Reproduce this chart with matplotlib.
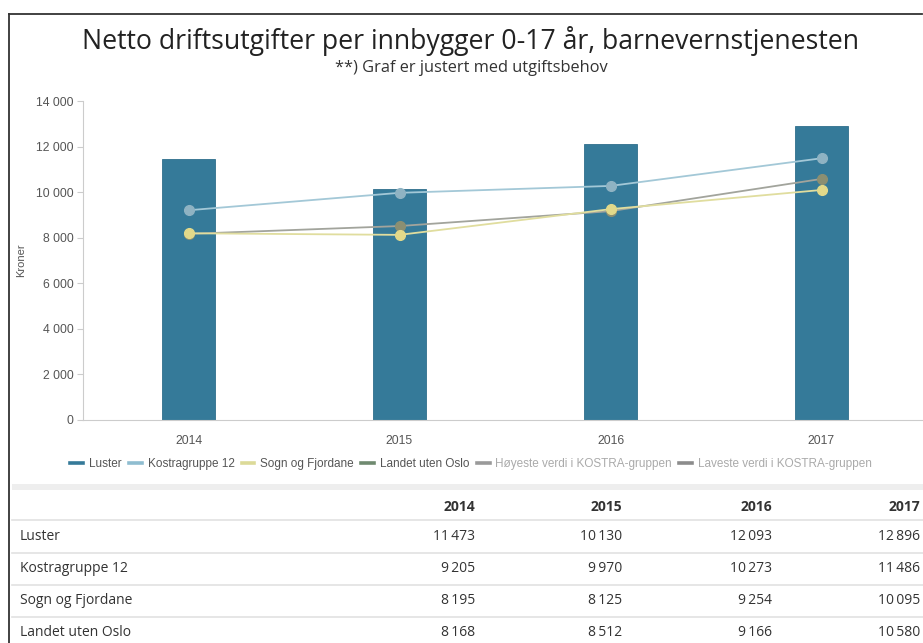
import matplotlib
matplotlib.use("Agg")
import matplotlib.pyplot as plt
from matplotlib.lines import Line2D
import numpy as np

years = ["2014", "2015", "2016", "2017"]
luster = [11473, 10130, 12093, 12896]
kostra = [9205, 9970, 10273, 11486]
sogn = [8195, 8125, 9254, 10095]
landet = [8168, 8512, 9166, 10580]
table_rows = ["Luster", "Kostragruppe 12", "Sogn og Fjordane", "Landet uten Oslo"]
table_vals = [luster, kostra, sogn, landet]
legend_labels = ["Luster", "Kostragruppe 12", "Sogn og Fjordane", "Landet uten Oslo",
                 "Høyeste verdi i KOSTRA-gruppen", "Laveste verdi i KOSTRA-gruppen"]
yticks = [0, 2000, 4000, 6000, 8000, 10000, 12000, 14000]

W, H = 923, 643
fig = plt.figure(figsize=(W / 100, H / 100), dpi=100)
fig.patch.set_facecolor("white")

def fx(px):
    return px / W

def fy(py):
    return 1 - py / H

# frame
fig.add_artist(Line2D([fx(9), fx(9)], [fy(14), fy(643)], color="#333333", lw=1.3))
fig.add_artist(Line2D([fx(9), fx(922)], [fy(14), fy(14)], color="#333333", lw=1.3))

fig.text(fx(471), fy(41), "Netto driftsutgifter per innbygger 0-17 år, barnevernstjenesten",
         ha="center", va="center", fontsize=19.2, family="Open Sans", color="#222222")
fig.text(fx(471), fy(68), "**) Graf er justert med utgiftsbehov",
         ha="center", va="center", fontsize=11.8, family="Open Sans", color="#333333")

ax = fig.add_axes([fx(83), fy(420), fx(927) - fx(83), fy(101) - fy(420)])
x = np.arange(len(years))
ax.bar(x, luster, width=0.25, color="#357a99", edgecolor="#2f6f8c", linewidth=0.6, zorder=2)
ax.plot(x, kostra, color="#a3c8d7", lw=1.3, marker="o", ms=7,
        mfc="#8fb3c3", mec="#8fb3c3", zorder=3)
ax.plot(x, landet, color="#a2a49c", lw=1.3, marker="o", ms=7,
        mfc="#8b8f72", mec="#8b8f72", zorder=3)
ax.plot(x, sogn, color="#e0dd9e", lw=1.3, marker="o", ms=7,
        mfc="#e2d98a", mec="#e2d98a", zorder=4)
ax.set_xlim(-0.5, len(years) - 0.5)
ax.set_ylim(0, 14000)
ax.set_yticks(yticks)
ax.set_yticklabels([f"{v:,}".replace(",", " ") for v in yticks],
                   fontsize=8.8, family="Liberation Sans", color="#555555")
ax.set_xticks(x)
ax.set_xticklabels(years, fontsize=8.8, family="Liberation Sans", color="#555555")
ax.tick_params(axis="x", length=0, pad=11)
ax.tick_params(axis="y", length=4, color="#cccccc", pad=3)
for s in ["top", "right"]:
    ax.spines[s].set_visible(False)
ax.spines["left"].set_color("#cccccc")
ax.spines["bottom"].set_color("#cccccc")
ax.set_ylabel("Kroner", fontsize=8, family="Liberation Sans", color="#555555")
ax.yaxis.set_label_coords((26 - 83) / (927 - 83), 0.5)

# legend
lcolors = ["#357a99", "#8fbdd0", "#dcda98", "#6f8a70", "#9a9a9a", "#8c8c8c"]
tcolors = ["#555555", "#555555", "#555555", "#555555", "#aaaaaa", "#aaaaaa"]
handles = [Line2D([0], [0], color=c, lw=2.6) for c in lcolors]
leg = fig.legend(handles, legend_labels, loc="center", bbox_to_anchor=(fx(471), fy(464)),
                 ncol=6, frameon=False, handlelength=1.1, handletextpad=0.5,
                 columnspacing=0.6, prop={"family": "Liberation Sans", "size": 8.5})
for t, c in zip(leg.get_texts(), tcolors):
    t.set_color(c)

# table
fig.add_artist(plt.Rectangle((fx(12), fy(490)), fx(923) - fx(12), fy(484) - fy(490),
                             transform=fig.transFigure, color="#eeeeee", lw=0))
col_right = [475, 622, 772, 920]
header_y = 507
for yr, cx in zip(years, col_right):
    fig.text(fx(cx), fy(header_y), yr, ha="right", va="center", fontsize=10,
             family="Open Sans", weight="bold", color="#333333")
line_ys = [520, 553, 585, 617]
for ly in line_ys:
    fig.add_artist(Line2D([fx(12), fx(923)], [fy(ly), fy(ly)], color="#e2e2e2", lw=1.2))
row_ys = [537, 569, 601, 632]
for name, vals, ry in zip(table_rows, table_vals, row_ys):
    fig.text(fx(20), fy(ry), name, ha="left", va="center", fontsize=10,
             family="Open Sans", color="#333333")
    for v, cx in zip(vals, col_right):
        fig.text(fx(cx), fy(ry), f"{v:,}".replace(",", "\u2009"), ha="right", va="center",
                 fontsize=10, family="Open Sans", color="#333333")

fig.savefig("out.png", dpi=100)
